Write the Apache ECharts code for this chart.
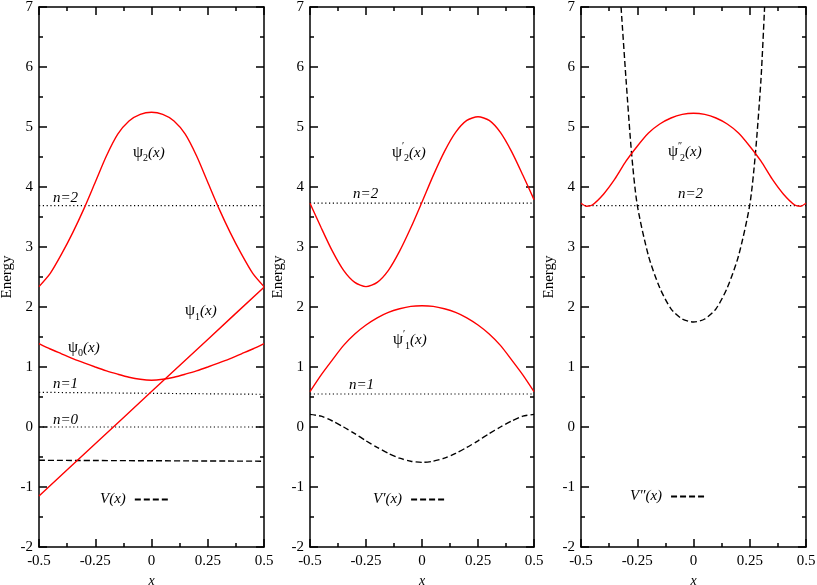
<!DOCTYPE html>
<html lang="en">
<head>
<meta charset="UTF-8">
<title>Energy levels</title>
<script src="https://cdn.jsdelivr.net/npm/echarts@6/dist/echarts.min.js"></script>
<style>
  html, body { margin: 0; padding: 0; background: #fff; }
  #canvas { width: 817px; height: 585px; }
</style>
</head>
<body>
<div id="canvas"></div>
<script>
// ---- data, [x, energy] ----
// left panel
const psi2 = [[-0.5, 2.34], [-0.45, 2.56], [-0.4, 2.88], [-0.35, 3.24], [-0.3, 3.64], [-0.25, 4.08], [-0.2, 4.52],
  [-0.15, 4.88], [-0.1, 5.1], [-0.05, 5.21], [0, 5.245], [0.05, 5.21], [0.1, 5.1], [0.15, 4.88], [0.2, 4.52],
  [0.25, 4.08], [0.3, 3.64], [0.35, 3.24], [0.4, 2.88], [0.45, 2.56], [0.5, 2.34]]
const psi1 = [[-0.5, -1.15], [-0.25, -0.28], [0, 0.59], [0.25, 1.46], [0.5, 2.33]]
const psi0 = [[-0.5, 1.39], [-0.45, 1.3], [-0.4, 1.22], [-0.35, 1.14], [-0.3, 1.07], [-0.25, 1.0], [-0.2, 0.935],
  [-0.15, 0.88], [-0.1, 0.83], [-0.05, 0.795], [0, 0.78], [0.05, 0.795], [0.1, 0.83], [0.15, 0.88], [0.2, 0.935],
  [0.25, 1.0], [0.3, 1.07], [0.35, 1.14], [0.4, 1.22], [0.45, 1.3], [0.5, 1.39]]
const level2a = [[-0.5, 3.69], [0.5, 3.69]]
const level1a = [[-0.5, 0.578], [0.5, 0.545]]
const level0a = [[-0.5, 0], [0.5, 0]]
const potA = [[-0.5, -0.555], [0.5, -0.57]]

// middle panel
const psi2b = [[-0.5, 3.73], [-0.45, 3.32], [-0.4, 2.93], [-0.35, 2.61], [-0.3, 2.41], [-0.25, 2.34], [-0.2, 2.41],
  [-0.15, 2.61], [-0.1, 2.93], [-0.05, 3.32], [0, 3.75], [0.05, 4.19], [0.1, 4.59], [0.15, 4.91], [0.2, 5.11],
  [0.25, 5.17], [0.3, 5.11], [0.35, 4.91], [0.4, 4.59], [0.45, 4.2], [0.5, 3.79]]
const psi1b = [[-0.5, 0.59], [-0.45, 0.87], [-0.4, 1.12], [-0.35, 1.36], [-0.3, 1.55], [-0.25, 1.7], [-0.2, 1.82],
  [-0.15, 1.91], [-0.1, 1.97], [-0.05, 2.01], [0, 2.02], [0.05, 2.01], [0.1, 1.97], [0.15, 1.91], [0.2, 1.82],
  [0.25, 1.7], [0.3, 1.55], [0.35, 1.36], [0.4, 1.12], [0.45, 0.87], [0.5, 0.59]]
const potB = [[-0.5, 0.21], [-0.45, 0.18], [-0.4, 0.1], [-0.35, 0.0], [-0.3, -0.11], [-0.25, -0.23], [-0.2, -0.34],
  [-0.15, -0.44], [-0.1, -0.52], [-0.05, -0.57], [0, -0.59], [0.05, -0.57], [0.1, -0.52], [0.15, -0.44],
  [0.2, -0.34], [0.25, -0.23], [0.3, -0.11], [0.35, 0.0], [0.4, 0.1], [0.45, 0.18], [0.5, 0.21]]
const level2b = [[-0.5, 3.73], [0.5, 3.73]]
const level1b = [[-0.5, 0.55], [0.5, 0.55]]

// right panel
const psi2c = [[-0.5, 3.73], [-0.475, 3.68], [-0.45, 3.7], [-0.4, 3.88], [-0.35, 4.13], [-0.3, 4.43], [-0.25, 4.68],
  [-0.2, 4.9], [-0.15, 5.05], [-0.1, 5.15], [-0.05, 5.21], [0, 5.23], [0.05, 5.21], [0.1, 5.15], [0.15, 5.05],
  [0.2, 4.9], [0.25, 4.68], [0.3, 4.43], [0.35, 4.13], [0.4, 3.88], [0.45, 3.7], [0.475, 3.68], [0.5, 3.73]]
const potC = [[-0.322, 7], [-0.3, 5.8], [-0.275, 4.55], [-0.25, 3.7], [-0.2, 2.85], [-0.15, 2.32], [-0.1, 1.97],
  [-0.05, 1.8], [0, 1.75], [0.05, 1.8], [0.1, 1.97], [0.15, 2.32], [0.2, 2.85], [0.25, 3.7], [0.275, 4.55],
  [0.3, 5.8], [0.316, 7]]
const level2c = [[-0.5, 3.69], [0.5, 3.69]]

// text anchors [x, energy, text]
const notesA = [[-0.082, 4.57, '{g|ψ}{sub|2}{it|(x)}'], [-0.438, 3.82, '{it|n=2}'], [0.149, 1.93, '{g|ψ}{sub|1}{it|(x)}'],
  [-0.371, 1.32, '{g|ψ}{sub|0}{it|(x)}'], [-0.438, 0.72, '{it|n=1}'], [-0.438, 0.12, '{it|n=0}']]
const notesB = [[-0.134, 4.57, '{g|ψ}{sup|′}{sub|2}{it|(x)}'], [-0.308, 3.88, '{it|n=2}'],
  [-0.129, 1.45, '{g|ψ}{sup|′}{sub|1}{it|(x)}'], [-0.326, 0.7, '{it|n=1}']]
const notesC = [[-0.113, 4.58, '{g|ψ}{sup|″}{sub|2}{it|(x)}'], [-0.069, 3.88, '{it|n=2}']]

const potNames = ['V(x)', 'V′(x)', 'V″(x)']

const FONT = 'Liberation Serif'
const grids = [
  { left: 39, top: 7, width: 225, height: 540, outerBoundsMode: 'none' },
  { left: 310, top: 7, width: 224, height: 540, outerBoundsMode: 'none' },
  { left: 581, top: 7, width: 225, height: 540, outerBoundsMode: 'none' }
]
const legendPos = [{ left: 100, top: 492 }, { left: 373, top: 492 }, { left: 630, top: 489 }]

const frame = { onZero: false, lineStyle: { color: '#000', width: 1.5 } }
const tick = { inside: true, length: 8, lineStyle: { color: '#000', width: 1.5 } }
const minor = { show: true, splitNumber: 2, length: 4, lineStyle: { color: '#000', width: 1.5 } }

const xAxis = []
const yAxis = []
grids.forEach((g, i) => {
  xAxis.push({
    gridIndex: i, type: 'value', min: -0.5, max: 0.5, interval: 0.25, position: 'bottom',
    name: 'x', nameLocation: 'middle', nameGap: 22,
    nameTextStyle: { fontFamily: FONT, fontStyle: 'italic', fontSize: 14, color: '#000' },
    axisLine: frame, axisTick: tick, minorTick: minor, splitLine: { show: false },
    axisLabel: { fontFamily: FONT, fontSize: 15, color: '#000', margin: 7 }
  })
  xAxis.push({
    gridIndex: i, type: 'value', min: -0.5, max: 0.5, interval: 0.25, position: 'top',
    axisLine: frame, axisTick: tick, minorTick: minor, splitLine: { show: false },
    axisLabel: { show: false }
  })
  yAxis.push({
    gridIndex: i, type: 'value', min: -2, max: 7, interval: 1, position: 'left',
    name: 'Energy', nameLocation: 'middle', nameGap: 24,
    nameTextStyle: { fontFamily: FONT, fontSize: 15, color: '#000' },
    axisLine: frame, axisTick: tick, minorTick: minor, splitLine: { show: false },
    axisLabel: { fontFamily: FONT, fontSize: 15, color: '#000', margin: 6 }
  })
  yAxis.push({
    gridIndex: i, type: 'value', min: -2, max: 7, interval: 1, position: 'right',
    axisLine: frame, axisTick: tick, minorTick: minor, splitLine: { show: false },
    axisLabel: { show: false }
  })
})

function curve(data, i, kind, name) {
  const styles = {
    wave: { color: '#ff0000', width: 1.4, type: 'solid' },
    level: { color: '#000', width: 1.2, type: [1.2, 2.6] },
    pot: { color: '#000', width: 1.4, type: [6, 3] }
  }
  return {
    type: 'line', name: name, data: data, xAxisIndex: 2 * i, yAxisIndex: 2 * i,
    showSymbol: false, symbol: 'none', smooth: kind === 'level' ? false : 0.25,
    lineStyle: styles[kind], itemStyle: { color: styles[kind].color },
    silent: true, z: kind === 'wave' ? 3 : 2
  }
}

const rich = {
  g: { fontFamily: FONT, fontSize: 16, lineHeight: 22, verticalAlign: 'middle', color: '#000' },
  it: { fontFamily: FONT, fontSize: 15, fontStyle: 'italic', lineHeight: 22, verticalAlign: 'middle', color: '#000' },
  sub: { fontFamily: FONT, fontSize: 10, lineHeight: 10, verticalAlign: 'bottom', color: '#000' },
  sup: { fontFamily: FONT, fontSize: 10, lineHeight: 10, verticalAlign: 'top', width: 2, color: '#000' }
}

function notes(list, i) {
  return {
    type: 'scatter', xAxisIndex: 2 * i, yAxisIndex: 2 * i, symbolSize: 0, silent: true,
    itemStyle: { color: '#000', opacity: 1 },
    data: list.map(n => ({ value: [n[0], n[1]], label: { formatter: n[2] } })),
    label: { show: true, position: 'right', distance: 0, color: '#000', opacity: 1, rich: rich }
  }
}

const series = [
  curve(psi2, 0, 'wave'), curve(psi1, 0, 'wave'), curve(psi0, 0, 'wave'),
  curve(level2a, 0, 'level'), curve(level1a, 0, 'level'), curve(level0a, 0, 'level'),
  curve(potA, 0, 'pot', potNames[0]),
  curve(psi2b, 1, 'wave'), curve(psi1b, 1, 'wave'),
  curve(level2b, 1, 'level'), curve(level1b, 1, 'level'),
  curve(potB, 1, 'pot', potNames[1]),
  curve(psi2c, 2, 'wave'), curve(level2c, 2, 'level'),
  curve(potC, 2, 'pot', potNames[2]),
  notes(notesA, 0), notes(notesB, 1), notes(notesC, 2)
]

const legend = potNames.map((n, i) => ({
  data: [n], left: legendPos[i].left, top: legendPos[i].top, align: 'right', padding: 0,
  itemWidth: 33, itemHeight: 14, itemGap: 8, selectedMode: false,
  itemStyle: { opacity: 0 },
  textStyle: { fontFamily: FONT, fontSize: 15, fontStyle: 'italic', color: '#000', padding: [0, 4, 0, 0] }
}))

const option = {
  animation: false,
  backgroundColor: '#fff',
  grid: grids,
  xAxis: xAxis,
  yAxis: yAxis,
  legend: legend,
  series: series
}

const chart = echarts.init(document.getElementById('canvas'))
chart.setOption(option)
</script>
</body>
</html>
